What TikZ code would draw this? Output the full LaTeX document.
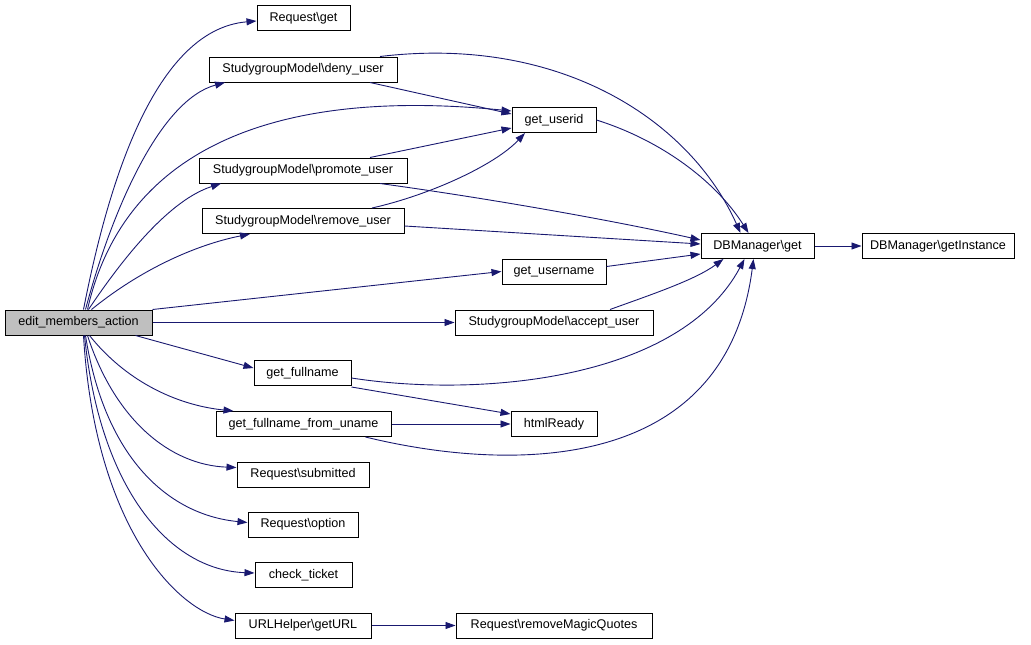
\documentclass[tikz,border=0pt]{standalone}
\usepackage{fontspec}
\setmainfont{Liberation Sans}
\usetikzlibrary{arrows.meta}
\definecolor{edgeblue}{HTML}{191970}
\definecolor{nodegray}{HTML}{BFBFBF}
\tikzset{
  fn/.style={draw=black, line width=1pt, fill=white, inner sep=0pt, minimum height=25pt,
    font=\fontsize{12.6}{14}\selectfont},
  cur/.style={fn, fill=nodegray},
  call/.style={draw=edgeblue, line width=0.9pt, -{Triangle[length=10pt,width=7pt]}},
}
\begin{document}
\begin{tikzpicture}[x=1pt,y=-1pt]
\useasboundingbox (0,0) rectangle (1031,645);
% nodes
\node[cur, minimum width=147pt] (E) at (78.5,322.5) {edit\_members\_action};
\node[fn, minimum width=93pt] (rget) at (303.5,18) {Request\textbackslash get};
\node[fn, minimum width=188pt] (deny) at (303,69.5) {StudygroupModel\textbackslash deny\_user};
\node[fn, minimum width=84pt] (userid) at (554,120) {get\_userid};
\node[fn, minimum width=208pt] (promote) at (303,170.5) {StudygroupModel\textbackslash promote\_user};
\node[fn, minimum width=202pt] (remove) at (303,221) {StudygroupModel\textbackslash remove\_user};
\node[fn, minimum width=113pt] (dbget) at (757.5,246) {DBManager\textbackslash get};
\node[fn, minimum width=152pt] (inst) at (938,246) {DBManager\textbackslash getInstance};
\node[fn, minimum width=104pt] (username) at (554,271.5) {get\_username};
\node[fn, minimum width=198pt] (accept) at (554,322.5) {StudygroupModel\textbackslash accept\_user};
\node[fn, minimum width=97pt] (fullname) at (302.5,373) {get\_fullname};
\node[fn, minimum width=175pt] (fnuname) at (303.5,424) {get\_fullname\_from\_uname};
\node[fn, minimum width=86pt] (html) at (554,424) {htmlReady};
\node[fn, minimum width=132pt] (submitted) at (303,474.5) {Request\textbackslash submitted};
\node[fn, minimum width=110pt] (option) at (303,524.5) {Request\textbackslash option};
\node[fn, minimum width=97pt] (ticket) at (303.5,575) {check\_ticket};
\node[fn, minimum width=136pt] (geturl) at (303,625.5) {URLHelper\textbackslash getURL};
\node[fn, minimum width=196pt] (rmq) at (554,625.5) {Request\textbackslash removeMagicQuotes};
% edges from edit_members_action
\draw[call] ([xshift=5pt]E.north) .. controls (105,200) and (150,30) .. ([yshift=-3pt]rget.west);
\draw[call] ([xshift=7pt]E.north) .. controls (112,210) and (160,100) .. ([xshift=-78pt]deny.south);
\draw[call] ([xshift=9pt]E.north) .. controls (120,165) and (250,85) .. ([yshift=9pt]userid.west);
\draw[call] ([xshift=10pt]E.north) .. controls (125,255) and (170,200) .. ([xshift=-82pt]promote.south);
\draw[call] ([xshift=13pt]E.north) .. controls (140,270) and (195,245) .. ([xshift=-53pt]remove.south);
\draw[call] (E.north east) -- ([yshift=0pt]username.west);
\draw[call] (E.east) -- (accept.west);
\draw[call] ([xshift=-17pt]E.south east) -- ([yshift=5pt]fullname.west);
\draw[call] ([xshift=11pt]E.south) .. controls (125,380) and (175,405) .. ([xshift=-70pt]fnuname.north);
\draw[call] ([xshift=9pt]E.south) .. controls (115,420) and (170,465) .. ([yshift=7pt]submitted.west);
\draw[call] ([xshift=7pt]E.south) .. controls (105,460) and (170,515) .. ([yshift=2pt]option.west);
\draw[call] ([xshift=6pt]E.south) .. controls (100,490) and (170,570) .. ([yshift=2pt]ticket.west);
\draw[call] ([xshift=5pt]E.south) .. controls (95,530) and (180,612) .. ([yshift=5pt]geturl.west);
% other edges
\draw[call] ([xshift=77pt]deny.north) .. controls (560,35) and (690,120) .. ([xshift=-17pt]dbget.north);
\draw[call] ([xshift=67pt]deny.south) -- ([yshift=6pt]userid.west);
\draw[call] ([xshift=67pt]promote.north) -- ([yshift=-8pt]userid.west);
\draw[call] ([xshift=69pt]remove.north) .. controls (430,195) and (495,165) .. ([xshift=-29pt]userid.south);
\draw[call] (userid.east) .. controls (660,140) and (715,180) .. ([xshift=-9pt]dbget.north);
\draw[call] ([xshift=77pt]promote.south) .. controls (500,200) and (620,222) .. ([yshift=6pt]dbget.west);
\draw[call] ([yshift=-5pt]remove.east) -- ([yshift=2pt]dbget.west);
\draw[call] ([yshift=5pt]username.east) -- ([yshift=-8pt]dbget.west);
\draw[call] ([xshift=56pt]accept.north) .. controls (650,295) and (695,280) .. ([xshift=-34pt]dbget.south);
\draw[call] ([yshift=-5pt]fullname.east) .. controls (480,398) and (680,380) .. ([xshift=-13pt]dbget.south);
\draw[call] ([yshift=-1pt]fullname.south east) -- ([yshift=10pt]html.west);
\draw[call] (fnuname.east) -- (html.west);
\draw[call] ([xshift=62pt]fnuname.south) .. controls (500,470) and (725,480) .. ([xshift=-4pt]dbget.south);
\draw[call] (dbget.east) -- (inst.west);
\draw[call] (geturl.east) -- (rmq.west);
\end{tikzpicture}
\end{document}
